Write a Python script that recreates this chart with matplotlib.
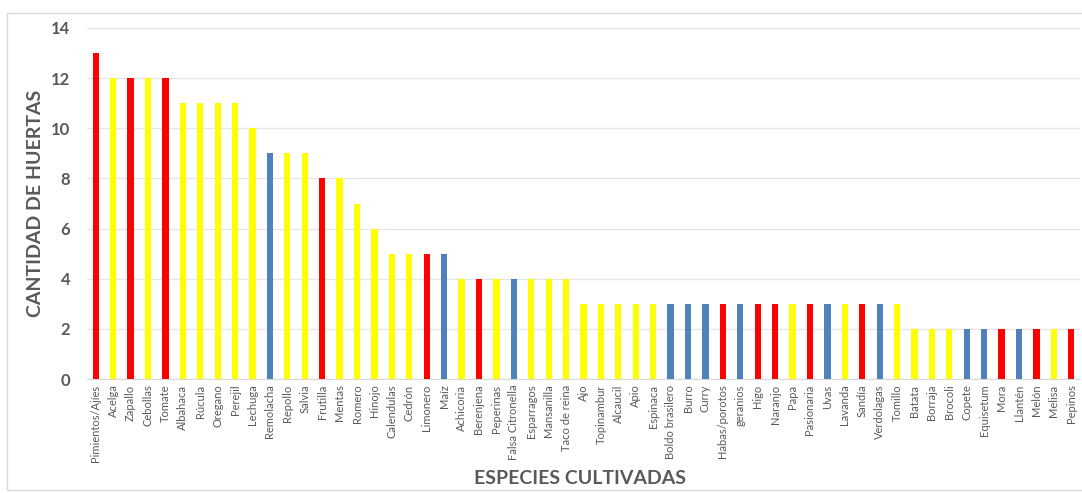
import matplotlib.pyplot as plt
from matplotlib.patches import Rectangle

especies = [
    "Pimientos/Ajíes", "Acelga", "Zapallo", "Cebollas", "Tomate", "Albahaca",
    "Rúcula", "Oregano", "Perejil", "Lechuga", "Remolacha", "Repollo", "Salvia",
    "Frutilla", "Mentas", "Romero", "Hinojo", "Calendulas", "Cedrón", "Limonero",
    "Maíz", "Achicoria", "Berenjena", "Peperinas", "Falsa Citronella",
    "Esparragos", "Mansanilla", "Taco de reina", "Ajo", "Topinambur", "Alcaucil",
    "Apio", "Espinaca", "Boldo brasilero", "Burro", "Curry", "Habas/porotos",
    "geranios", "Higo", "Naranjo", "Papa", "Pasionaria", "Uvas", "Lavanda",
    "Sandía", "Verdolagas", "Tomillo", "Batata", "Borraja", "Brocoli", "Copete",
    "Equisetum", "Mora", "Llantén", "Melón", "Melisa", "Pepinos",
]
huertas = [
    13, 12, 12, 12, 12, 11, 11, 11, 11, 10, 9, 9, 9, 8, 8, 7, 6, 5, 5, 5, 5,
    4, 4, 4, 4, 4, 4, 4, 3, 3, 3, 3, 3, 3, 3, 3, 3, 3, 3, 3, 3, 3, 3, 3, 3,
    3, 3, 2, 2, 2, 2, 2, 2, 2, 2, 2, 2,
]
# grupo: r = rojo, y = amarillo, b = azul
grupo = [
    "r", "y", "r", "y", "r", "y", "y", "y", "y", "y", "b", "y", "y", "r", "y",
    "y", "y", "y", "y", "r", "b", "y", "r", "y", "b", "y", "y", "y", "y", "y",
    "y", "y", "y", "b", "b", "b", "r", "b", "r", "r", "y", "r", "b", "y", "r",
    "b", "y", "y", "y", "y", "b", "b", "r", "b", "r", "y", "r",
]

COLORES = {"r": "#FF0000", "y": "#FFFF00", "b": "#4F81BD"}
GRIS = "#595959"
FONT = ["Lato", "DejaVu Sans"]

plt.rcParams["font.family"] = FONT

fig = plt.figure(figsize=(10.82, 4.93), dpi=100)
fig.patches.append(Rectangle((7 / 1082, 3 / 493), 1.1, 477 / 493, transform=fig.transFigure,
                             fill=False, edgecolor="#D9D9D9", linewidth=1.0))
ax = fig.add_axes([87 / 1082, 1 - 379 / 493, 993 / 1082, 351 / 493])

x = range(len(especies))
ax.bar(x, huertas, width=0.36, color=[COLORES[g] for g in grupo], zorder=3)

ax.set_xlim(-0.5, len(especies) - 0.5)
ax.set_ylim(0, 14)
ax.set_yticks(range(0, 15, 2))
ax.set_xticks(list(x))
ax.set_xticklabels(especies, rotation=90, fontsize=8, color=GRIS)
ax.tick_params(axis="y", labelsize=12, labelcolor=GRIS, length=0, pad=12)
ax.tick_params(axis="x", length=0, pad=4)
for lbl in ax.get_yticklabels():
    lbl.set_fontweight("bold")

ax.grid(axis="y", color="#E6E6E6", linewidth=1.0, zorder=0)
for side in ["top", "right", "left"]:
    ax.spines[side].set_visible(False)
ax.spines["bottom"].set_color("#D9D9D9")

ax.set_ylabel("CANTIDAD DE HUERTAS", fontsize=14, fontweight="bold", color=GRIS)
ax.yaxis.set_label_coords(-(87 - 44) / 993, 0.5)
fig.text(580 / 1082, 1 - 479 / 493, "ESPECIES CULTIVADAS", ha="center", va="center",
         fontsize=14, fontweight="bold", color=GRIS)

fig.savefig("out.png", dpi=100)
